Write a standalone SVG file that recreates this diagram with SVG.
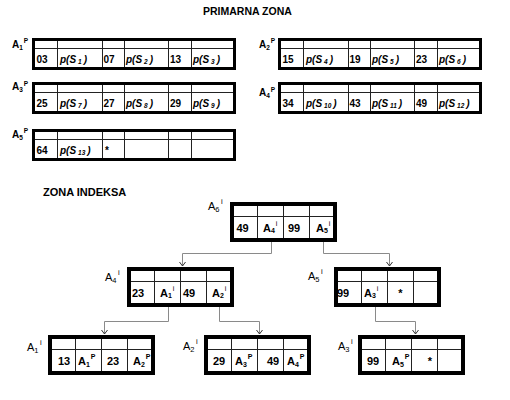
<svg xmlns="http://www.w3.org/2000/svg" xmlns:xlink="http://www.w3.org/1999/xlink" width="510" height="400" viewBox="0 0 510 400">
<style>
text{font-family:"Liberation Sans",Arial,sans-serif;font-weight:bold;fill:#000}
.pb{fill:#fff;stroke:#000;stroke-width:3}
.ib{fill:#fff;stroke:#000;stroke-width:4}
.gl{fill:none;stroke:#222;stroke-width:1}
.d{font-size:10px}
.p{font-size:10px;font-style:italic}
.ps{font-size:6.5px}
.ix{font-size:11px}
.sb{font-size:7px}
.sp{font-size:7px;font-weight:normal}
.lp{font-size:10px}
.lps{font-size:6.5px}
.li{font-size:11px;font-weight:normal}
.lis{font-size:7.5px;font-weight:normal}
.ttl{font-size:10.5px}
.ttl2{font-size:11px}
.c{fill:none;stroke:#8a8a8a;stroke-width:1}
</style>
<defs>
<g id="pg">
<rect class="pb" x="1.5" y="1.5" width="201" height="29"/>
<path class="gl" d="M3 10.5H201M25.5 3V29M70.5 3V29M92.5 3V29M136.5 3V29M159.5 3V29"/>
</g>
<g id="ig">
<rect class="ib" x="2" y="2" width="103" height="36"/>
<path class="gl" d="M4 14.5H103M27.5 4V36M53.5 4V36M79.5 4V36"/>
</g>
<marker id="ar" viewBox="-5 -5 10 10" refX="0" refY="0" markerWidth="10" markerHeight="10" markerUnits="userSpaceOnUse" orient="auto">
<path d="M-4,-3L0,0L-4,3" fill="none" stroke="#333" stroke-width="1"/>
</marker>
</defs>

<text class="ttl" x="203" y="15">PRIMARNA ZONA</text>
<text class="ttl2" x="43" y="196">ZONA INDEKSA</text>

<g id="A1p">
<text class="lp" x="12" y="47.5">A<tspan class="lps" dy="2">1</tspan><tspan class="lps" dx="1" dy="-6.5">P</tspan></text>
<g transform="translate(32,38)">
<use xlink:href="#pg"/>
<text class="d" x="4.5" y="25">03</text>
<text class="p" x="28" y="25">p(S<tspan class="ps" dx="2" dy="1">1</tspan><tspan dx="2" dy="-1">)</tspan></text>
<text class="d" x="71.5" y="25">07</text>
<text class="p" x="94" y="25">p(S<tspan class="ps" dx="2" dy="1">2</tspan><tspan dx="2" dy="-1">)</tspan></text>
<text class="d" x="138" y="25">13</text>
<text class="p" x="161" y="25">p(S<tspan class="ps" dx="2" dy="1">3</tspan><tspan dx="2" dy="-1">)</tspan></text>
</g>
</g>

<g id="A2p">
<text class="lp" x="259" y="47.5">A<tspan class="lps" dy="2">2</tspan><tspan class="lps" dx="1" dy="-6.5">P</tspan></text>
<g transform="translate(278,38)">
<use xlink:href="#pg"/>
<text class="d" x="4.5" y="25">15</text>
<text class="p" x="28" y="25">p(S<tspan class="ps" dx="2" dy="1">4</tspan><tspan dx="2" dy="-1">)</tspan></text>
<text class="d" x="71.5" y="25">19</text>
<text class="p" x="94" y="25">p(S<tspan class="ps" dx="2" dy="1">5</tspan><tspan dx="2" dy="-1">)</tspan></text>
<text class="d" x="138" y="25">23</text>
<text class="p" x="161" y="25">p(S<tspan class="ps" dx="2" dy="1">6</tspan><tspan dx="2" dy="-1">)</tspan></text>
</g>
</g>

<g id="A3p">
<text class="lp" x="12" y="90">A<tspan class="lps" dy="2">3</tspan><tspan class="lps" dx="1" dy="-6.5">P</tspan></text>
<g transform="translate(32,82)">
<use xlink:href="#pg"/>
<text class="d" x="4.5" y="25">25</text>
<text class="p" x="28" y="25">p(S<tspan class="ps" dx="2" dy="1">7</tspan><tspan dx="2" dy="-1">)</tspan></text>
<text class="d" x="71.5" y="25">27</text>
<text class="p" x="94" y="25">p(S<tspan class="ps" dx="2" dy="1">8</tspan><tspan dx="2" dy="-1">)</tspan></text>
<text class="d" x="138" y="25">29</text>
<text class="p" x="161" y="25">p(S<tspan class="ps" dx="2" dy="1">9</tspan><tspan dx="2" dy="-1">)</tspan></text>
</g>
</g>

<g id="A4p">
<text class="lp" x="259" y="96">A<tspan class="lps" dy="2">4</tspan><tspan class="lps" dx="1" dy="-6.5">P</tspan></text>
<g transform="translate(278,82)">
<use xlink:href="#pg"/>
<text class="d" x="4.5" y="25">34</text>
<text class="p" x="28" y="25">p(S<tspan class="ps" dx="2" dy="1">10</tspan><tspan dx="2" dy="-1">)</tspan></text>
<text class="d" x="71.5" y="25">43</text>
<text class="p" x="94" y="25">p(S<tspan class="ps" dx="2" dy="1">11</tspan><tspan dx="2" dy="-1">)</tspan></text>
<text class="d" x="138" y="25">49</text>
<text class="p" x="161" y="25">p(S<tspan class="ps" dx="2" dy="1">12</tspan><tspan dx="2" dy="-1">)</tspan></text>
</g>
</g>

<g id="A5p">
<text class="lp" x="12" y="137.5">A<tspan class="lps" dy="2">5</tspan><tspan class="lps" dx="1" dy="-6.5">P</tspan></text>
<g transform="translate(32,129)">
<use xlink:href="#pg"/>
<text class="d" x="4.5" y="25">64</text>
<text class="p" x="28" y="25">p(S<tspan class="ps" dx="2" dy="1">13</tspan><tspan dx="2" dy="-1">)</tspan></text>
<text class="d" x="73" y="25">*</text>
</g>
</g>

<g id="connectors">
<polyline class="c" points="271.5,241 271.5,253.5 182.5,253.5 182.5,266" marker-end="url(#ar)"/>
<polyline class="c" points="323.5,241 323.5,253.5 389.5,253.5 389.5,266" marker-end="url(#ar)"/>
<polyline class="c" points="168.5,307 168.5,321.5 104.5,321.5 104.5,334" marker-end="url(#ar)"/>
<polyline class="c" points="219.5,307 219.5,321.5 259.5,321.5 259.5,334" marker-end="url(#ar)"/>
<polyline class="c" points="375.5,307 375.5,321.5 415.5,321.5 415.5,334" marker-end="url(#ar)"/>
</g>

<g id="A6i">
<text class="li" x="208" y="210">A<tspan class="lis" dy="2">6</tspan><tspan class="lis" dx="1.5" dy="-8">i</tspan></text>
<g transform="translate(230,202)">
<use xlink:href="#ig"/>
<text class="ix" x="6.5" y="30">49</text>
<text class="ix" x="33" y="30">A<tspan class="sb" dy="0.5">4</tspan><tspan class="sp" dx="1" dy="-7">i</tspan></text>
<text class="ix" x="58" y="30">99</text>
<text class="ix" x="86" y="30">A<tspan class="sb" dy="0.5">5</tspan><tspan class="sp" dx="1" dy="-7">i</tspan></text>
</g>
</g>

<g id="A4i">
<text class="li" x="105" y="281">A<tspan class="lis" dy="2">4</tspan><tspan class="lis" dx="1.5" dy="-8">i</tspan></text>
<g transform="translate(127,267)">
<use xlink:href="#ig"/>
<text class="ix" x="5" y="30">23</text>
<text class="ix" x="33" y="30">A<tspan class="sb" dy="0.5">1</tspan><tspan class="sp" dx="1" dy="-7">i</tspan></text>
<text class="ix" x="56" y="30">49</text>
<text class="ix" x="85" y="30">A<tspan class="sb" dy="0.5">2</tspan><tspan class="sp" dx="1" dy="-7">i</tspan></text>
</g>
</g>

<g id="A5i">
<text class="li" x="308" y="280">A<tspan class="lis" dy="2">5</tspan><tspan class="lis" dx="1.5" dy="-8">i</tspan></text>
<g transform="translate(334,267)">
<use xlink:href="#ig"/>
<text class="ix" x="3" y="30">99</text>
<text class="ix" x="30" y="30">A<tspan class="sb" dy="0.5">3</tspan><tspan class="sp" dx="1" dy="-7">i</tspan></text>
<text class="ix" x="66.5" y="30" text-anchor="middle">*</text>
</g>
</g>

<g id="A1i">
<text class="li" x="27" y="351">A<tspan class="lis" dy="2">1</tspan><tspan class="lis" dx="1.5" dy="-8">i</tspan></text>
<g transform="translate(48,335)">
<use xlink:href="#ig"/>
<text class="ix" x="10" y="30">13</text>
<text class="ix" x="30" y="30">A<tspan class="sb" dy="2">1</tspan><tspan class="sb" dx="1" dy="-8">P</tspan></text>
<text class="ix" x="59" y="30">23</text>
<text class="ix" x="85" y="30">A<tspan class="sb" dy="2">2</tspan><tspan class="sb" dx="1" dy="-8">P</tspan></text>
</g>
</g>

<g id="A2i">
<text class="li" x="183" y="350">A<tspan class="lis" dy="2">2</tspan><tspan class="lis" dx="1.5" dy="-8">i</tspan></text>
<g transform="translate(204,335)">
<use xlink:href="#ig"/>
<text class="ix" x="9" y="30">29</text>
<text class="ix" x="31" y="30">A<tspan class="sb" dy="2">3</tspan><tspan class="sb" dx="1" dy="-8">P</tspan></text>
<text class="ix" x="63" y="30">49</text>
<text class="ix" x="83" y="30">A<tspan class="sb" dy="2">4</tspan><tspan class="sb" dx="1" dy="-8">P</tspan></text>
</g>
</g>

<g id="A3i">
<text class="li" x="338" y="350">A<tspan class="lis" dy="2">3</tspan><tspan class="lis" dx="1.5" dy="-8">i</tspan></text>
<g transform="translate(358,335)">
<use xlink:href="#ig"/>
<text class="ix" x="9" y="30">99</text>
<text class="ix" x="34" y="30">A<tspan class="sb" dy="2">5</tspan><tspan class="sb" dx="1" dy="-8">P</tspan></text>
<text class="ix" x="72" y="30" text-anchor="middle">*</text>
</g>
</g>
</svg>
